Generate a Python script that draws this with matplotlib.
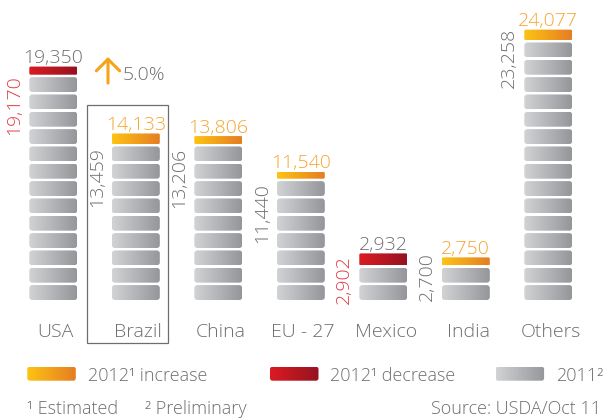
import numpy as np
import matplotlib
matplotlib.use("Agg")
import matplotlib.pyplot as plt
from matplotlib.patches import FancyBboxPatch, Rectangle
from matplotlib.colors import LinearSegmentedColormap

# ---- data (thousand tonnes) ----
categories = ["USA", "Brazil", "China", "EU - 27", "Mexico", "India", "Others"]
prod_2011 = [19350, 13459, 13206, 11440, 2932, 2700, 23258]
prod_2012 = [19170, 14133, 13806, 11540, 2902, 2750, 24077]
highlight = "Brazil"
DISC_VALUE = 1530  # volume represented by one grey disc

# ---- style ----
FONT = ["Open Sans", "DejaVu Sans"]
plt.rcParams["font.family"] = FONT
GREY_TXT = "#6d6e71"
ORANGE_TXT = "#f7a52d"
RED_TXT = "#e23a44"
GREY_GRAD = ("#d2d3d5", "#95969a")
ORANGE_GRAD = ("#fdc414", "#e57d22")
RED_GRAD = ("#db1b24", "#95131f")
cap_thickness = [0.47, 0.61, 0.46, 0.39, 0.69, 0.46, 0.60]
side_label_top = [12.98, 8.85, 8.77, 6.75, 2.60, 2.79, 15.70]

W, H = 603, 418
PX_X = 82.5     # pixels per category
PX_Y = 17.33    # pixels per disc
fig = plt.figure(figsize=(W / 100, H / 100), dpi=100)
ax = fig.add_axes([0, (H - 300) / H, 1, 17 * PX_Y / H])
ax.set_xlim(-53.3 / PX_X, (W - 53.3) / PX_X)
ax.set_ylim(0, 17)
ax.axis("off")

grad = np.linspace(0, 1, 256).reshape(1, -1)


def gradient_box(axis, x0, y0, w, h, colors, r_px, sx, sy, zorder=2):
    """Rounded rectangle filled with a left-to-right gradient."""
    patch = FancyBboxPatch((x0, y0), w, h,
                           boxstyle=f"round,pad=0,rounding_size={r_px / sx}",
                           mutation_aspect=sx / sy, fc="none", ec="none",
                           zorder=zorder, clip_on=False)
    axis.add_patch(patch)
    cmap = LinearSegmentedColormap.from_list("g", list(colors))
    im = axis.imshow(grad, extent=(x0, x0 + w, y0, y0 + h), cmap=cmap,
                     aspect="auto", interpolation="bilinear", zorder=zorder)
    im.set_clip_path(patch)
    im.set_clip_on(True)
    return patch


bar_w = 48 / PX_X
disc_h = 0.86
fs_num = 14

for i, (cat, v11, v12) in enumerate(zip(categories, prod_2011, prod_2012)):
    base = min(v11, v12)
    n = int(round(base / DISC_VALUE))
    x0 = i - bar_w / 2
    for k in range(n):
        gradient_box(ax, x0, k, bar_w, disc_h, GREY_GRAD, 3, PX_X, PX_Y)
    up = v12 >= v11
    cap_c = ORANGE_GRAD if up else RED_GRAD
    gradient_box(ax, x0, n, bar_w, cap_thickness[i], cap_c, 1.5, PX_X, PX_Y)

    top_val, side_val = max(v11, v12), min(v11, v12)
    top_col = ORANGE_TXT if up else GREY_TXT
    side_col = GREY_TXT if up else RED_TXT
    ax.annotate(f"{top_val:,}", xy=(i, n + cap_thickness[i]), xytext=(0, 2.5),
                textcoords="offset points", ha="center", va="baseline",
                fontsize=fs_num, color=top_col, fontweight="light",
                annotation_clip=False)
    ax.text(i - 39 / PX_X, side_label_top[i], f"{side_val:,}", rotation=90,
            ha="center", va="top", fontsize=fs_num, color=side_col,
            fontweight="light", clip_on=False)
    ax.text(i + 0.03, -37 / PX_Y, cat, ha="center", va="baseline", fontsize=14,
            color=GREY_TXT, fontweight="light", clip_on=False)

# highlighted country: frame and growth arrow
hi = categories.index(highlight)
ax.add_patch(Rectangle((hi - 0.595, -2.46), 0.982, 13.71, fill=False,
                       ec="#6d6e71", lw=0.9, clip_on=False, zorder=1))
growth = (prod_2012[hi] / prod_2011[hi] - 1) * 100
ax.annotate("", xy=(hi - 0.337, 14.02), xytext=(hi - 0.337, 12.52),
            arrowprops=dict(arrowstyle="->,head_length=0.6,head_width=0.6",
                            lw=2.2, color="#f7a21b", mutation_scale=14,
                            shrinkA=0, shrinkB=0),
            annotation_clip=False)
ax.text(hi - 0.155, 12.69, f"{growth:.1f}%", ha="left", va="baseline",
        fontsize=14, color=GREY_TXT, fontweight="light", clip_on=False)

# ---- legend and notes (figure pixel space) ----
lg = fig.add_axes([0, 0, 1, 1], zorder=-1)
lg.set_xlim(0, W)
lg.set_ylim(H, 0)
lg.axis("off")
legend_items = [("2012\u00b9 increase", ORANGE_GRAD, 27.3, 87.7),
                ("2012\u00b9 decrease", RED_GRAD, 270.0, 330.5),
                ("2011\u00b2", GREY_GRAD, 495.6, 556.0)]
for label, cols, sx0, tx in legend_items:
    gradient_box(lg, sx0, 366.7, 48.5, 14.0, cols, 2.5, 1, 1)
    lg.text(tx, 381, label, ha="left", va="baseline", fontsize=13,
            color=GREY_TXT, fontweight="light")
lg.set_ylim(H, 0)

lg.text(27, 414.3, "\u00b9 Estimated", ha="left", va="baseline", fontsize=13,
        color=GREY_TXT, fontweight="light")
lg.text(145, 414.3, "\u00b2 Preliminary", ha="left", va="baseline", fontsize=13,
        color=GREY_TXT, fontweight="light")
lg.text(601, 414.3, "Source: USDA/Oct 11", ha="right", va="baseline",
        fontsize=13, color=GREY_TXT, fontweight="light")

fig.savefig("out.png", dpi=100)
